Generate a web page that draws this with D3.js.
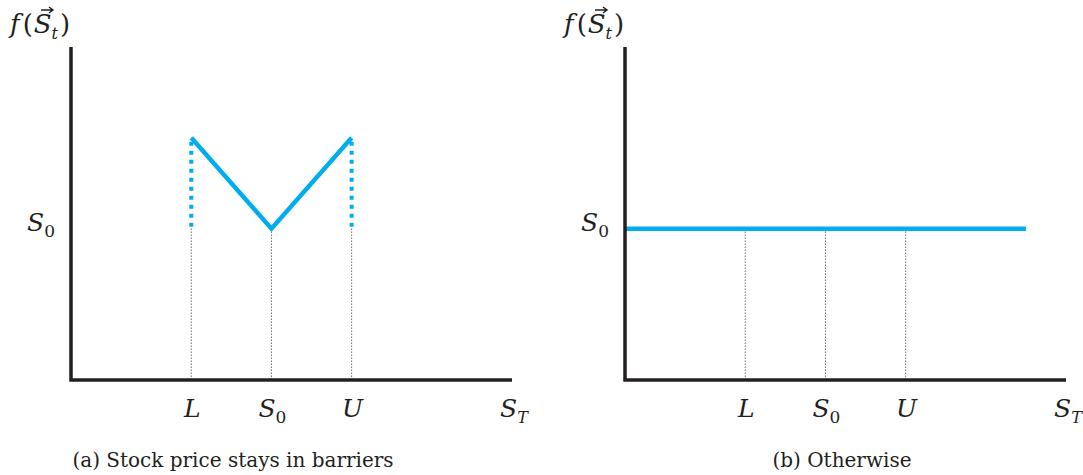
<!DOCTYPE html>
<html>
<head>
<meta charset="utf-8">
<script src="https://cdn.jsdelivr.net/npm/d3@7"></script>
<style>
  body { margin: 0; background: #fff; }
</style>
</head>
<body>
<div id="graph"></div>
<script>
// abstract units, both panels share them
const xTickNames = ["L", "S0", "U"];
const xTickValues = [3, 5, 7];
const s0Level = 5;
const payoffA = [[3, 8], [5, 5], [7, 8]];       // knock-out: |S - S0| payoff
const barrierA = [[[3, 8], [3, 5]], [[7, 8], [7, 5]]];
const payoffB = [[0, 5], [10, 5]];              // otherwise: stays at S0
const captions = ["(a) Stock price stays in barriers", "(b) Otherwise"];

const W = 1083, H = 475;
const blue = "#00aeef", ink = "#231f20";
const serif = "'DejaVu Serif', 'Liberation Serif', serif";

const svg = d3.select("#graph").append("svg")
  .attr("width", W).attr("height", H)
  .attr("font-family", serif).attr("fill", ink);

const panels = [
  {left: 71, payoff: payoffA, barriers: barrierA, cap: captions[0], capX: 233},
  {left: 625, payoff: payoffB, barriers: [], cap: captions[1], capX: 842}
];

const yScale = d3.scaleLinear().domain([0, 11]).range([380, 47]);

panels.forEach(p => {
  const xScale = d3.scaleLinear().domain([0, 11]).range([p.left, p.left + 441]);
  const g = svg.append("g");

  // guide lines down to the axis
  g.selectAll(".guide").data(xTickValues).enter().append("line")
    .attr("x1", d => xScale(d)).attr("x2", d => xScale(d))
    .attr("y1", yScale(s0Level)).attr("y2", yScale(0))
    .attr("stroke", "#222").attr("stroke-width", 1)
    .attr("stroke-dasharray", "1,2");

  // barrier jumps
  g.selectAll(".bar").data(p.barriers).enter().append("line")
    .attr("x1", d => xScale(d[0][0])).attr("x2", d => xScale(d[1][0]))
    .attr("y1", d => yScale(d[0][1]) + 4).attr("y2", d => yScale(d[1][1]))
    .attr("stroke", blue).attr("stroke-width", 4)
    .attr("stroke-dasharray", "4,5");

  // payoff
  g.append("path").datum(p.payoff)
    .attr("d", d3.line().x(d => xScale(d[0])).y(d => yScale(d[1])))
    .attr("fill", "none").attr("stroke", blue).attr("stroke-width", 4.5)
    .attr("stroke-linejoin", "miter");

  // axes
  g.append("path")
    .attr("d", `M${xScale(0)},${yScale(11)} V${yScale(0)} H${xScale(11)}`)
    .attr("fill", "none").attr("stroke", ink).attr("stroke-width", 3.5);

  // tick labels
  xTickNames.forEach((n, i) => {
    const t = g.append("text").attr("x", xScale(xTickValues[i]) + 1)
      .attr("y", 417).attr("text-anchor", "middle")
      .attr("font-size", 25).attr("font-style", "italic");
    if (n === "S0") {
      t.text("S");
      t.append("tspan").attr("dy", 6).attr("font-size", 17).attr("font-style", "normal").text("0");
    } else t.text(n);
  });

  // S_T
  const st = g.append("text").attr("x", xScale(11) - 12).attr("y", 417)
    .attr("font-size", 25).attr("font-style", "italic").text("S");
  st.append("tspan").attr("dy", 6).attr("font-size", 16).text("T");

  // S0 on y axis
  const s0 = g.append("text").attr("x", p.left - 44).attr("y", yScale(s0Level) + 2)
    .attr("font-size", 25).attr("font-style", "italic").text("S");
  s0.append("tspan").attr("dy", 6).attr("font-size", 17).attr("font-style", "normal").text("0");

  // y label f(S_t)
  const fx = p.left - 61;
  const fy = g.append("text").attr("x", fx).attr("y", 33).attr("font-size", 26);
  fy.append("tspan").attr("font-style", "italic").text("f");
  fy.append("tspan").attr("dx", 3).text("(");
  fy.append("tspan").attr("dx", 1).attr("font-style", "italic").text("S");
  fy.append("tspan").attr("dy", 6).attr("font-size", 16).attr("font-style", "italic").text("t");
  fy.append("tspan").attr("dy", -6).attr("dx", 2).text(")");
  g.append("path")
    .attr("d", `M${fx + 31},10 H${fx + 43} M${fx + 39},7 L${fx + 43},10 L${fx + 39},13`)
    .attr("fill", "none").attr("stroke", ink).attr("stroke-width", 1.4);

  // caption
  g.append("text").attr("x", p.capX).attr("y", 467).attr("text-anchor", "middle")
    .attr("font-size", 20).text(p.cap);
});
</script>
</body>
</html>
